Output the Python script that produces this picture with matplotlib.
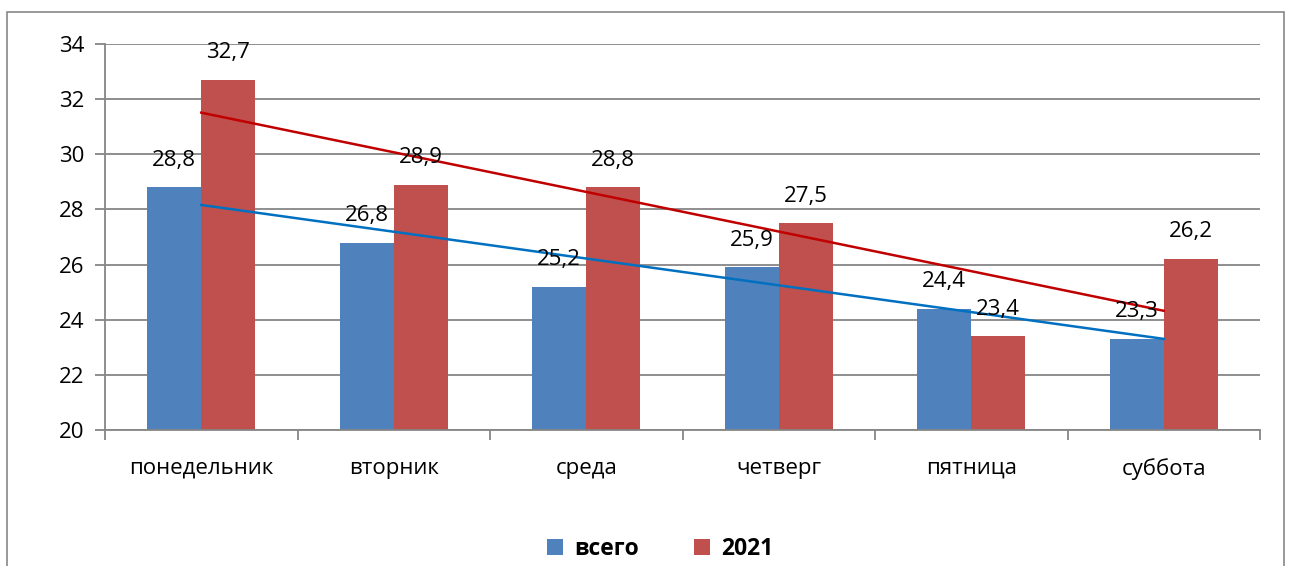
import numpy as np
import matplotlib
matplotlib.use("Agg")
from matplotlib import pyplot as plt
from matplotlib.patches import Rectangle

# days of the week and the two series
days = ["понедельник", "вторник", "среда", "четверг", "пятница", "суббота"]
vsego = [28.8, 26.8, 25.2, 25.9, 24.4, 23.3]
y2021 = [32.7, 28.9, 28.8, 27.5, 23.4, 26.2]
series_names = ["всего", "2021"]

blue, red = "#4F81BD", "#C0504D"
grid_grey = "#868686"

plt.rcParams['font.family'] = ['Open Sans', 'DejaVu Sans']

fig = plt.figure(figsize=(12.91, 5.66), dpi=100)
ax = fig.add_axes([105/1291, 136/566, 1155/1291, 386/566])

# outer chart frame like the office chart border
fig.patches.append(Rectangle((7/1291, -0.05), 1277/1291, (566-12)/566 + 0.05,
                             transform=fig.transFigure, fill=False,
                             edgecolor="#888888", linewidth=1.2))

x = np.arange(len(days))
w = 0.28
b1 = ax.bar(x - w/2, vsego, w, color=blue, label=series_names[0], zorder=2)
b2 = ax.bar(x + w/2, y2021, w, color=red, label=series_names[1], zorder=2)

# value labels with decimal comma
for bars, vals in ((b1, vsego), (b2, y2021)):
    for r, v in zip(bars, vals):
        ax.annotate(f"{v:.1f}".replace(".", ","),
                    (r.get_x() + r.get_width()/2, v),
                    xytext=(0, 19.5), textcoords="offset points",
                    ha="center", va="center", fontsize=16, zorder=4)

# linear trendlines
for vals, col in ((vsego, "#0070C0"), (y2021, "#C00000")):
    m, c = np.polyfit(x, vals, 1)
    ax.plot(x, m*x + c, color=col, linewidth=1.8, zorder=3)

ax.set_xlim(-0.5, len(days) - 0.5)
ax.set_ylim(20, 34)
ax.set_yticks(np.arange(20, 35, 2))
ax.yaxis.grid(True, color=grid_grey, linewidth=1.3, zorder=0)
ax.set_axisbelow(True)

ax.set_xticks(np.arange(-0.5, len(days), 1))
ax.set_xticklabels([])
ax.set_xticks(x, minor=True)
ax.set_xticklabels(days, minor=True, fontsize=16)
ax.tick_params(axis="x", which="major", length=7, width=1.3, color=grid_grey, direction="out")
ax.tick_params(axis="x", which="minor", length=0, pad=20)
ax.tick_params(axis="y", length=7, width=1.3, color=grid_grey, labelsize=16, pad=8)

for s in ("top", "right"):
    ax.spines[s].set_visible(False)
for s in ("left", "bottom"):
    ax.spines[s].set_color(grid_grey)
    ax.spines[s].set_linewidth(1.3)

leg = fig.legend(loc="center", bbox_to_anchor=(660/1291, 1 - 549/566), ncol=2,
                 frameon=False, prop={"weight": "bold", "size": 16.5},
                 handlelength=0.7, handleheight=0.7, columnspacing=2.4, handletextpad=0.5)

fig.savefig("out.png", dpi=100)
